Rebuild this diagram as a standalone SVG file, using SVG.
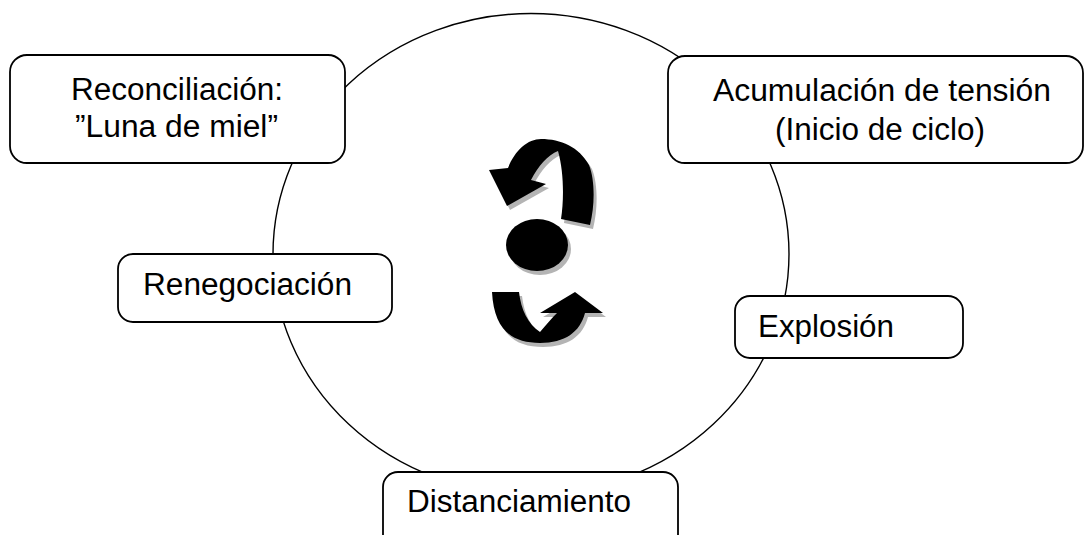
<svg xmlns="http://www.w3.org/2000/svg" width="1085" height="535" viewBox="0 0 1085 535">
<style>
.box{fill:#fff;stroke:#000;stroke-width:1.8}
.t{font-family:"Liberation Sans",Arial,sans-serif;font-size:31px;fill:#000}
.ring{fill:none;stroke:#000;stroke-width:1.4}
.sh{fill:#b4b4b4}
.blk{fill:#000}
</style>
<defs>
<path id="arrTop" d="M489,170 L508,168 C515,150 528,139 541,139 C561,139 579,147 589,165 C595,180 595,205 590,225 L561,219 C564,200 564,172 558,151 C548,155 538,166 531,180 L546,184 L507,206 Z"/>
<path id="arrBot" d="M492,292 L519,292 C521,310 528,324 540,332 C546,325 552,318 557,313 L540,313 L575,292 L603,313 L585,313 C580,332 565,343 540,343 C512,343 494,330 492,292 Z"/>
<ellipse id="dot" cx="537" cy="245" rx="31" ry="26"/>
</defs>
<g id="connectors">
<ellipse class="ring" cx="531" cy="254" rx="258" ry="240.5"/>
</g>
<g id="center-icon">
<use href="#arrTop" class="sh" transform="translate(3,4)"/>
<use href="#arrBot" class="sh" transform="translate(3,4)"/>
<use href="#dot" class="sh" transform="translate(3,4)"/>
<use href="#arrTop" class="blk"/>
<use href="#arrBot" class="blk"/>
<use href="#dot" class="blk"/>
</g>
<g id="reconciliacion">
<rect class="box" x="10" y="55" width="335" height="108" rx="17"/>
<text class="t" x="71" y="100" textLength="212" lengthAdjust="spacingAndGlyphs">Reconciliación:</text>
<text class="t" x="75" y="137" textLength="203" lengthAdjust="spacingAndGlyphs">”Luna de miel”</text>
</g>
<g id="acumulacion">
<rect class="box" x="668" y="56" width="415" height="107" rx="17"/>
<text class="t" x="713" y="101" textLength="338" lengthAdjust="spacingAndGlyphs">Acumulación de tensión</text>
<text class="t" x="775" y="140" textLength="210" lengthAdjust="spacingAndGlyphs">(Inicio de ciclo)</text>
</g>
<g id="renegociacion">
<rect class="box" x="118" y="254" width="274" height="68" rx="15"/>
<text class="t" x="143" y="295" textLength="209" lengthAdjust="spacingAndGlyphs">Renegociación</text>
</g>
<g id="explosion">
<rect class="box" x="735" y="296" width="228" height="62" rx="15"/>
<text class="t" x="758" y="337" textLength="136" lengthAdjust="spacingAndGlyphs">Explosión</text>
</g>
<g id="distanciamiento">
<rect class="box" x="383" y="472" width="295" height="85" rx="15"/>
<text class="t" x="407" y="512" textLength="224" lengthAdjust="spacingAndGlyphs">Distanciamiento</text>
</g>
</svg>
